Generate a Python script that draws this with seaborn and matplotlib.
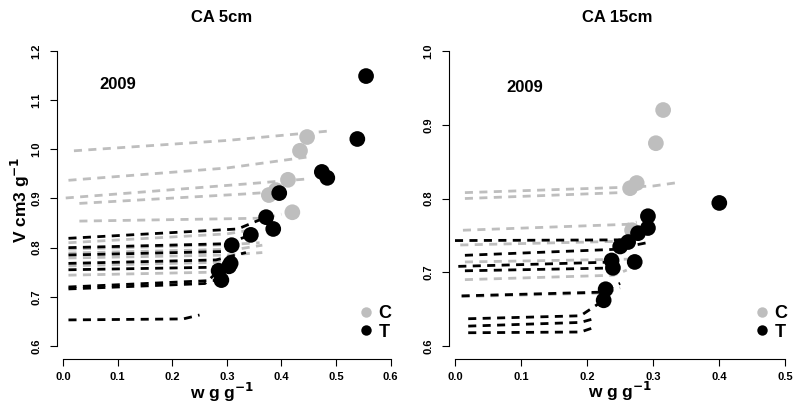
import matplotlib
matplotlib.use("Agg")
import matplotlib.pyplot as plt
from matplotlib.lines import Line2D
import seaborn as sns
import pandas as pd

# ---------------- data ----------------
titles = ["CA 5cm", "CA 15cm"]
year_label = "2009"
groups = ["C", "T"]
colors = {"C": "#BEBEBE", "T": "#000000"}

# Panel 1 (CA 5cm): shrinkage curves (w, V) per sample
c5_curves = [
    [(0.02, 0.997), (0.30, 1.018), (0.485, 1.037)],
    [(0.01, 0.937), (0.30, 0.962), (0.452, 0.985)],
    [(0.005, 0.901), (0.34, 0.930), (0.45, 0.940)],
    [(0.03, 0.890), (0.33, 0.909), (0.37, 0.912)],
    [(0.03, 0.854), (0.37, 0.860), (0.40, 0.868)],
    [(0.01, 0.810), (0.30, 0.828), (0.34, 0.835)],
    [(0.01, 0.797), (0.30, 0.806), (0.36, 0.810)],
    [(0.01, 0.789), (0.32, 0.797), (0.365, 0.805)],
    [(0.01, 0.779), (0.30, 0.785), (0.365, 0.790)],
    [(0.01, 0.763), (0.28, 0.770), (0.31, 0.780)],
    [(0.01, 0.744), (0.27, 0.750), (0.29, 0.755)],
]
t5_curves = [
    [(0.01, 0.819), (0.32, 0.838), (0.372, 0.862)],
    [(0.01, 0.800), (0.30, 0.808), (0.344, 0.826)],
    [(0.01, 0.785), (0.29, 0.792), (0.309, 0.805)],
    [(0.01, 0.768), (0.28, 0.775), (0.335, 0.790)],
    [(0.01, 0.755), (0.27, 0.760), (0.307, 0.768)],
    [(0.01, 0.720), (0.27, 0.733), (0.290, 0.734)],
    [(0.01, 0.716), (0.26, 0.727), (0.285, 0.753)],
    [(0.01, 0.653), (0.22, 0.655), (0.25, 0.663)],
]
c5_w = [0.447, 0.434, 0.412, 0.390, 0.377, 0.420]
c5_v = [1.025, 0.997, 0.938, 0.917, 0.907, 0.872]
t5_w = [0.555, 0.539, 0.474, 0.484, 0.396, 0.372, 0.385, 0.344, 0.309, 0.307, 0.304, 0.285, 0.290]
t5_v = [1.149, 1.021, 0.954, 0.942, 0.911, 0.862, 0.838, 0.826, 0.805, 0.768, 0.762, 0.753, 0.734]

# Panel 2 (CA 15cm)
c15_curves = [
    [(0.015, 0.808), (0.25, 0.815), (0.30, 0.817), (0.34, 0.822)],
    [(0.015, 0.800), (0.25, 0.808), (0.265, 0.814)],
    [(0.012, 0.757), (0.26, 0.765), (0.275, 0.768)],
    [(0.008, 0.737), (0.25, 0.742), (0.27, 0.745)],
    [(0.015, 0.714), (0.28, 0.718)],
    [(0.015, 0.690), (0.24, 0.696), (0.26, 0.703)],
    [(0.010, 0.667), (0.23, 0.672), (0.25, 0.679)],
]
t15_curves = [
    [(0.000, 0.743), (0.27, 0.744)],
    [(0.015, 0.723), (0.24, 0.731), (0.29, 0.740)],
    [(0.005, 0.708), (0.245, 0.714)],
    [(0.015, 0.702), (0.25, 0.706)],
    [(0.010, 0.668), (0.22, 0.673), (0.25, 0.685)],
    [(0.020, 0.637), (0.19, 0.641), (0.205, 0.650), (0.225, 0.662)],
    [(0.020, 0.627), (0.19, 0.632), (0.21, 0.637)],
    [(0.020, 0.618), (0.19, 0.619), (0.21, 0.625)],
]
c15_w = [0.315, 0.304, 0.275, 0.265, 0.268]
c15_v = [0.920, 0.875, 0.821, 0.814, 0.757]
t15_w = [0.400, 0.292, 0.292, 0.277, 0.262, 0.250, 0.272, 0.237, 0.239, 0.225, 0.228]
t15_v = [0.794, 0.776, 0.760, 0.753, 0.741, 0.735, 0.714, 0.716, 0.706, 0.662, 0.677]

x_ticks = [[0.0, 0.1, 0.2, 0.3, 0.4, 0.5, 0.6], [0.0, 0.1, 0.2, 0.3, 0.4, 0.5]]
y_ticks = [[0.6, 0.7, 0.8, 0.9, 1.0, 1.1, 1.2], [0.6, 0.7, 0.8, 0.9, 1.0]]


def curves_df(c_curves, t_curves):
    rows = []
    k = 0
    for g, cl in (("C", c_curves), ("T", t_curves)):
        for crv in cl:
            for (w, v) in crv:
                rows.append({"group": g, "curve": k, "w": w, "v": v})
            k += 1
    return pd.DataFrame(rows)


def points_df(cw, cv, tw, tv):
    rows = [{"group": "C", "w": a, "v": b} for a, b in zip(cw, cv)]
    rows += [{"group": "T", "w": a, "v": b} for a, b in zip(tw, tv)]
    return pd.DataFrame(rows)


panels = [
    (curves_df(c5_curves, t5_curves), points_df(c5_w, c5_v, t5_w, t5_v)),
    (curves_df(c15_curves, t15_curves), points_df(c15_w, c15_v, t15_w, t15_v)),
]

# ---------------- style ----------------
sns.set_style("ticks")
plt.rcParams["font.family"] = ["Liberation Sans", "DejaVu Sans"]
plt.rcParams["font.weight"] = "bold"
plt.rcParams["text.color"] = "black"
plt.rcParams["axes.labelcolor"] = "black"
plt.rcParams["xtick.color"] = "black"
plt.rcParams["ytick.color"] = "black"
plt.rcParams["axes.edgecolor"] = "black"

W, H = 793, 403
fig = plt.figure(figsize=(W / 100, H / 100), dpi=100)

# axes geometry in pixels: (left px, right px, bottom py, top py, xlim, ylim)
geoms = [
    (57, 395, 359, 39, (-0.011, 0.608), (0.5735, 1.2244)),
    (449, 790, 359, 39, (-0.00908, 0.507), (0.5824, 1.0163)),
]
title_pos = [(222, 17), (617, 17)]
year_pos = [(0.10, 1.131), (0.106, 0.950)]
xlabel_pos = [(222, 392), (620, 391)]
legend_pos = [(367, 317), (763, 317)]

for i, ((cdf, pdf), (l, r, b, t, xl, yl)) in enumerate(zip(panels, geoms)):
    ax = fig.add_axes([l / W, 1 - b / H, (r - l) / W, (b - t) / H])
    sns.lineplot(data=cdf, x="w", y="v", hue="group", units="curve",
                 estimator=None, sort=False, palette=colors, legend=False,
                 linewidth=2.0, linestyle=(0, (2.9, 2.3)), ax=ax)
    sns.scatterplot(data=pdf, x="w", y="v", hue="group", palette=colors,
                    s=128, linewidth=0, legend=False, zorder=3, ax=ax)
    ax.set_xlim(*xl)
    ax.set_ylim(*yl)
    ax.set_xticks(x_ticks[i])
    ax.set_yticks(y_ticks[i])
    ax.set_xticklabels([f"{v:.1f}" for v in x_ticks[i]], fontsize=8, fontweight="bold")
    ax.set_yticklabels([f"{v:.1f}" for v in y_ticks[i]], fontsize=8, fontweight="bold",
                       rotation=90, va="center")
    ax.tick_params(axis="x", length=5, width=0.8, pad=4)
    ax.tick_params(axis="y", length=5, width=0.8, pad=6)
    for s in ("top", "right"):
        ax.spines[s].set_visible(False)
    ax.spines["left"].set_bounds(y_ticks[i][0], y_ticks[i][-1])
    ax.spines["bottom"].set_bounds(x_ticks[i][0], x_ticks[i][-1])
    ax.spines["left"].set_linewidth(0.8)
    ax.spines["bottom"].set_linewidth(0.8)
    ax.set_xlabel("")
    ax.set_ylabel("")
    ax.text(year_pos[i][0], year_pos[i][1], year_label, fontsize=12,
            fontweight="bold", ha="center", va="center")
    fig.text(title_pos[i][0] / W, 1 - title_pos[i][1] / H, titles[i], fontsize=12,
             fontweight="bold", ha="center", va="center")
    fig.text(xlabel_pos[i][0] / W, 1 - xlabel_pos[i][1] / H, r"w g g$^{-1}$",
             fontsize=12.5, fontweight="bold", ha="center", va="center")
    handles = [Line2D([], [], marker="o", linestyle="", markersize=7.5,
                      markerfacecolor=colors[g], markeredgewidth=0) for g in groups]
    ax.legend(handles, groups, frameon=False, loc="upper left",
              bbox_to_anchor=((legend_pos[i][0] - 12) / W, 1 - (legend_pos[i][1] - 12) / H),
              bbox_transform=fig.transFigure, prop={"size": 13, "weight": "bold"},
              handletextpad=0.1, labelspacing=0.1, handlelength=1.2,
              borderaxespad=0, borderpad=0)

fig.text(20 / W, 1 - 200 / H, r"V cm3 g$^{-1}$", fontsize=12.5, fontweight="bold",
         rotation=90, ha="center", va="center")

fig.savefig("out.png", dpi=100)
